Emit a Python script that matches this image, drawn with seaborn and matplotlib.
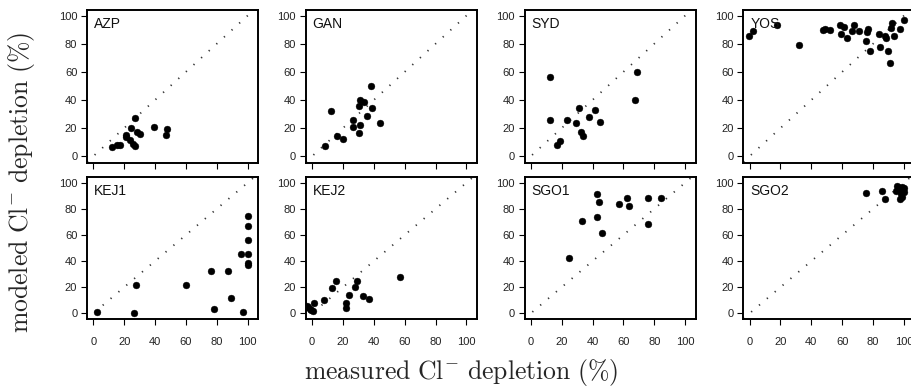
import matplotlib
matplotlib.use("Agg")
import matplotlib.pyplot as plt
import pandas as pd
import seaborn as sns

sites = ["AZP", "GAN", "SYD", "YOS", "KEJ1", "KEJ2", "SGO1", "SGO2"]

azp_meas = [11.8, 15.5, 17.0, 26.7, 24.7, 21.0, 21.4, 23.7, 25.8, 27.1, 28.6, 30.5, 39.1, 47.5, 46.9]
azp_mod = [6.6, 7.6, 7.8, 27.0, 19.9, 15.4, 13.7, 11.8, 9.0, 7.1, 17.5, 15.6, 20.9, 19.4, 15.2]

gan_meas = [8.4, 12.3, 16.0, 20.3, 26.4, 26.4, 30.1, 31.0, 33.3, 31.2, 30.1, 35.7, 38.3, 38.7, 44.2]
gan_mod = [6.9, 32.0, 14.5, 12.1, 25.4, 21.1, 35.5, 40.0, 38.2, 22.0, 16.8, 28.7, 49.8, 34.1, 23.7]

syd_meas = [12.2, 12.2, 17.2, 18.9, 23.2, 29.4, 31.5, 32.4, 33.9, 37.6, 41.8, 45.1, 67.8, 68.9]
syd_mod = [56.2, 25.8, 7.8, 11.1, 25.4, 23.5, 34.4, 17.3, 14.0, 27.7, 32.9, 24.6, 40.3, 59.7]

yos_meas = [-0.6, 1.9, 17.9, 31.7, 47.5, 48.8, 52.0, 58.7, 59.4, 61.1, 62.9, 66.5, 67.6, 70.8,
            76.2, 76.9, 75.6, 77.8, 83.8, 84.2, 87.5, 88.6, 89.6, 91.2, 91.4, 92.4, 93.3, 97.4, 100.0]
yos_mod = [85.8, 89.3, 93.6, 79.4, 89.6, 90.5, 90.0, 93.6, 87.2, 91.7, 84.1, 89.3, 93.1, 88.9,
           88.4, 90.5, 82.2, 75.1, 87.0, 77.5, 85.8, 83.9, 74.6, 66.4, 91.2, 94.8, 85.8, 90.5, 96.7]

kej1_meas = [2.4, 26.6, 27.9, 59.8, 76.0, 78.4, 87.0, 89.4, 95.6, 97.2, 100, 100, 100, 100, 100, 100]
kej1_mod = [0.8, 0.3, 22.0, 21.7, 32.7, 3.1, 32.5, 12.0, 45.5, 1.3, 74.7, 67.0, 55.8, 45.5, 38.4, 37.3]

kej2_meas = [-3.5, -2.5, -1.5, -0.5, 0.5, 1.5, 7.4, 12.8, 15.2, 21.9, 21.9, 23.6, 27.5, 29.2, 33.1, 36.8, 56.7]
kej2_mod = [5.8, 4.5, 3.3, 2.3, 1.5, 7.9, 10.2, 19.2, 25.0, 8.2, 4.3, 14.3, 20.5, 25.0, 13.0, 11.3, 28.1]

sgo1_meas = [24.6, 33.4, 42.7, 43.1, 44.4, 45.9, 56.9, 62.5, 63.8, 75.6, 76.1, 84.3]
sgo1_mod = [42.5, 70.3, 73.4, 91.0, 84.9, 61.4, 83.6, 88.5, 81.8, 88.5, 68.3, 88.5]

sgo2_meas = [75.6, 86.0, 87.5, 95.2, 96.8, 97.8, 98.9, 97.2, 100.0, 98.5, 95.0, 100.2]
sgo2_mod = [91.8, 93.6, 87.2, 97.2, 95.1, 91.3, 88.7, 87.5, 92.6, 96.9, 93.3, 95.9]

measured = [azp_meas, gan_meas, syd_meas, yos_meas, kej1_meas, kej2_meas, sgo1_meas, sgo2_meas]
modeled = [azp_mod, gan_mod, syd_mod, yos_mod, kej1_mod, kej2_mod, sgo1_mod, sgo2_mod]
ticks = [0, 20, 40, 60, 80, 100]

sns.set_style("white")
plt.rcParams['font.family'] = ['Liberation Sans', 'DejaVu Sans']
plt.rcParams['mathtext.fontset'] = 'cm'

W, H = 911, 387
fig = plt.figure(figsize=(W / 100, H / 100), dpi=100)

# panel geometry in pixels (R-style mfrow layout)
col_left = [87, 305.8, 524.5, 743.3]
box_w = 171
rows = [(10, 162.5, (-4.5, 104)), (176.7, 319.3, (-4.6, 104.6))]

for i, site in enumerate(sites):
    r, c = divmod(i, 4)
    top, bot, ylim = rows[r]
    ax = fig.add_axes([col_left[c] / W, 1 - bot / H, box_w / W, (bot - top) / H])
    df = pd.DataFrame({"measured": measured[i], "modeled": modeled[i]})
    ax.axline((0, 0), slope=1, color="#333333", lw=1.3, ls=(0, (0.7, 5.0)))
    sns.scatterplot(data=df, x="measured", y="modeled", ax=ax, color="black",
                    s=24, edgecolor="black", linewidth=0.3, zorder=3)
    ax.set_xlim(-4.1, 106.7)
    ax.set_ylim(*ylim)
    ax.set_xticks(ticks)
    ax.set_yticks(ticks)
    ax.set_xlabel("")
    ax.set_ylabel("")
    for sp in ax.spines.values():
        sp.set_visible(True)
        sp.set_linewidth(1.4)
        sp.set_color("black")
    ax.tick_params(axis="both", direction="out", length=4, width=0.8, labelsize=8,
                   color="black", labelcolor="#222222", bottom=True, left=True)
    ax.tick_params(axis="y", pad=3)
    ax.tick_params(axis="x", pad=9, labelbottom=(r == 1))
    ax.annotate(site, xy=(0, 1), xycoords="axes fraction", xytext=(5, -5),
                textcoords="offset points", ha="left", va="top", fontsize=10,
                color="#111111")

fig.text(461 / W, 1 - 372 / H, r"$\mathrm{measured\ Cl^{-}\ depletion\ (\%)}$",
         ha="center", va="center", fontsize=18.5)
fig.text(22 / W, 1 - 182 / H, r"$\mathrm{modeled\ Cl^{-}\ depletion\ (\%)}$",
         ha="center", va="center", rotation=90, fontsize=18.5)

fig.savefig("out.png", dpi=100)
